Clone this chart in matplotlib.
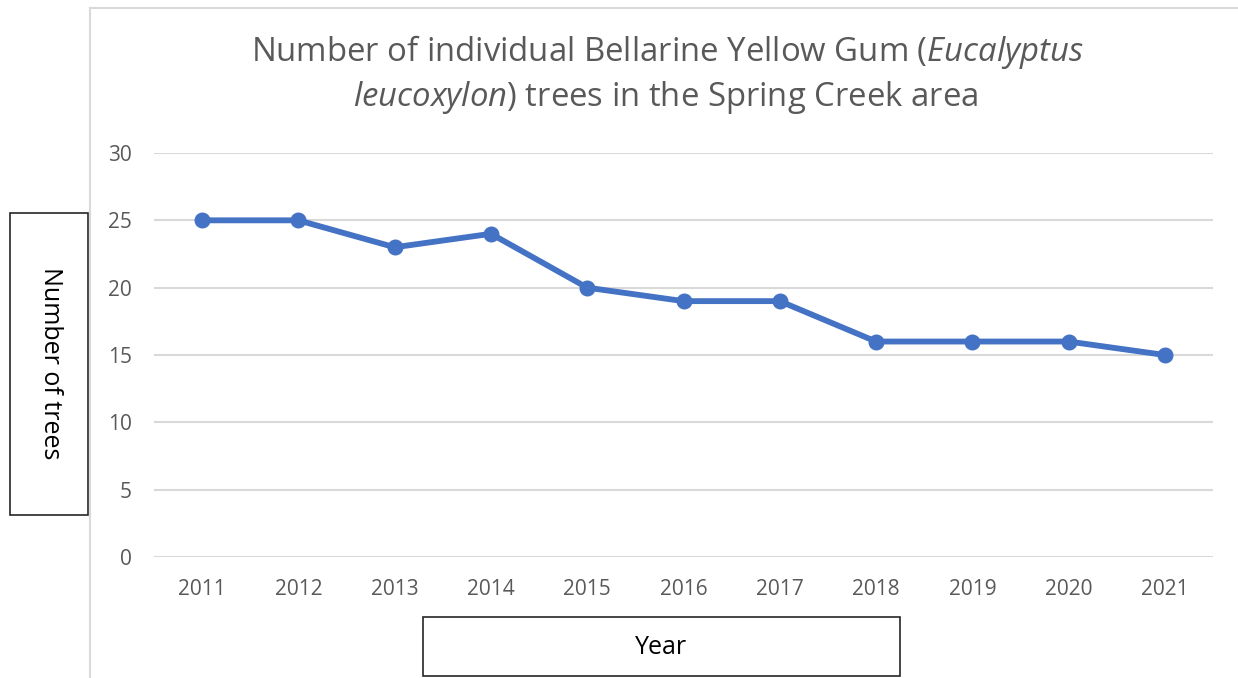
import matplotlib
matplotlib.use("Agg")
import matplotlib.pyplot as plt
from matplotlib.lines import Line2D
from matplotlib.patches import Rectangle

years = ["2011", "2012", "2013", "2014", "2015", "2016", "2017", "2018", "2019", "2020", "2021"]
trees = [25, 25, 23, 24, 20, 19, 19, 16, 16, 16, 15]
yticks = [0, 5, 10, 15, 20, 25, 30]

plt.rcParams['font.family'] = ['Open Sans', 'DejaVu Sans']
plt.rcParams['mathtext.fontset'] = 'custom'
plt.rcParams['mathtext.it'] = 'Open Sans:italic'
plt.rcParams['mathtext.rm'] = 'Open Sans'

W, H = 1238, 678
fig = plt.figure(figsize=(W / 100, H / 100), dpi=100)
fig.patch.set_facecolor('white')

ax = fig.add_axes([154 / W, 1 - 557 / H, (1213 - 154) / W, (557 - 153) / H])
x = list(range(len(years)))
ax.plot(x, trees, color='#4472C4', lw=4.2, marker='o', ms=10.5, solid_joinstyle='round', zorder=3)
ax.set_xlim(-0.5, len(years) - 0.5)
ax.set_ylim(0, 30)
ax.set_yticks(yticks)
ax.set_xticks(x)
ax.set_xticklabels(years)
ax.grid(axis='y', color='#D9D9D9', lw=1.5)
ax.set_axisbelow(True)
for s in ax.spines.values():
    s.set_visible(False)
ax.tick_params(axis='both', length=0, labelsize=15, labelcolor='#595959')
ax.tick_params(axis='y', pad=16)
ax.tick_params(axis='x', pad=16)

# outer frame
fig.add_artist(Line2D([90 / W, 90 / W], [0, 1 - 8 / H], color='#D9D9D9', lw=1.5))
fig.add_artist(Line2D([90 / W, 1], [1 - 8 / H, 1 - 8 / H], color='#D9D9D9', lw=1.5))

# title
tc = '#595959'
fig.text(667 / W, 1 - 52 / H, r"Number of individual Bellarine Yellow Gum ($\mathit{Eucalyptus}$",
         ha='center', va='center', fontsize=23.7, color=tc)
fig.text(666 / W, 1 - 97 / H, r"$\mathit{leucoxylon}$) trees in the Spring Creek area",
         ha='center', va='center', fontsize=23.7, color=tc)

# y label box
fig.add_artist(Rectangle((10 / W, 1 - 515 / H), 78 / W, 302 / H, fill=False,
                         edgecolor='#262626', lw=1.2))
fig.text(50 / W, 1 - 363 / H, "Number of trees", rotation=270, ha='center', va='center',
         fontsize=18, color='black')

# x label box
fig.add_artist(Rectangle((423 / W, 1 - 676 / H), 477 / W, 59 / H, fill=False,
                         edgecolor='#262626', lw=1.2))
fig.text(661 / W, 1 - 647 / H, "Year", ha='center', va='center', fontsize=18, color='black')

fig.savefig("out.png", dpi=100, facecolor='white')
